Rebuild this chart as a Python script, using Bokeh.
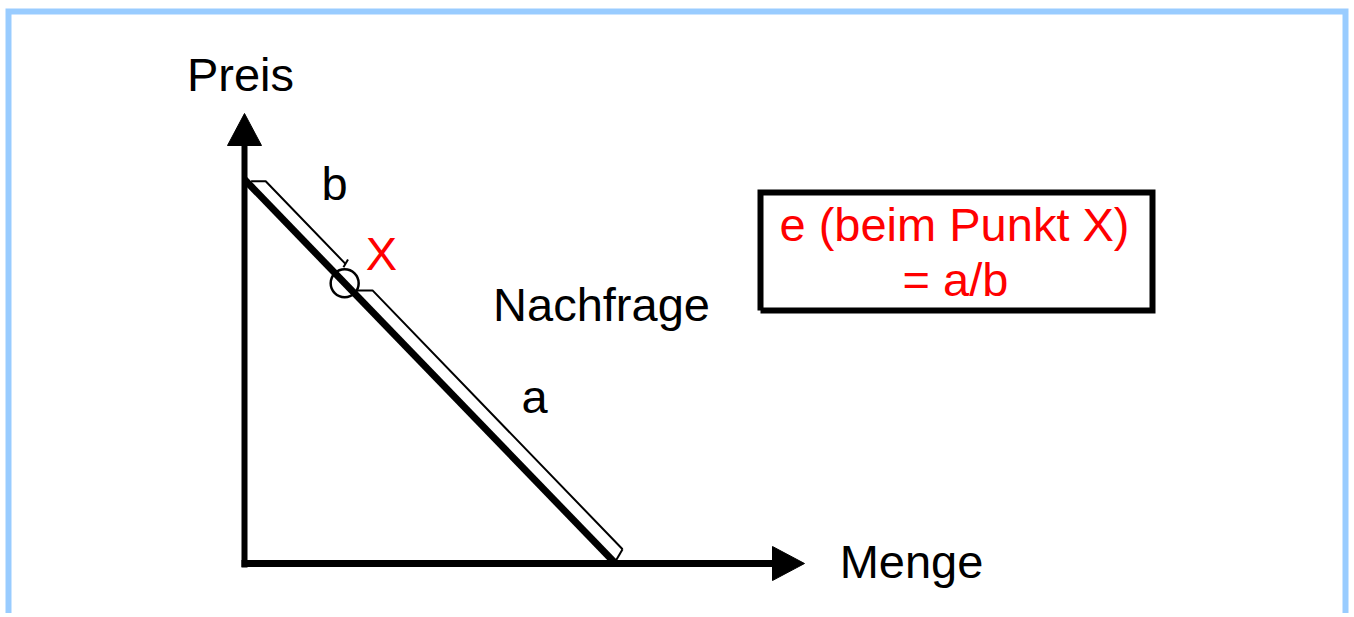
import numpy as np
from bokeh.plotting import figure
from bokeh.models import Range1d, ColumnDataSource
from bokeh.core.properties import value
from bokeh.embed import file_html
from bokeh.resources import INLINE

# ---------------- data (units: pixels relative to the axes origin) ----------------
price_axis_top = 450          # tip of the price arrow
qty_axis_end = 560            # tip of the quantity arrow
arrow_len = 32
arrow_half = 17

demand_q = [0, 371]           # demand line: quantity at its two ends
demand_p = [384, 0]           # demand line: price at its two ends
point_t = 0.27                # position of point X along the demand line

bracket_names = ["b", "a"]
bracket_t0 = [0.03, 0.316]
bracket_t1 = [0.245, 0.99]
bracket_offset = [14, 15]
bracket_end_up = [5, 0]       # end tick length beyond the bracket line
bracket_end_down = [4, 16]    # end tick length towards the demand line

label_text = ["Preis", "Menge", "Nachfrage", "a", "b"]
label_x = [-4, 667, 357, 290, 90]
label_y = [489, 2, 259, 167, 380]

red_label_text = ["X", "e (beim Punkt X)", "= a/b"]
red_label_x = [137, 710, 711]
red_label_y = [310, 339, 284]

box_x = [516, 908]
box_y = [253, 371]

frame_left, frame_right, frame_top, frame_bottom = -236, 1101, 552, -50

FONT = value("Liberation Sans")
FSIZE = "47px"

# ---------------- figure ----------------
p = figure(width=1350, height=613, output_backend="svg", toolbar_location=None,
           x_range=Range1d(-244, 1106), y_range=Range1d(-50, 563),
           x_axis_type=None, y_axis_type=None, min_border=0,
           background_fill_color="white", border_fill_color="white")
p.outline_line_color = None
p.grid.visible = False

# light blue frame
p.line([frame_left, frame_left, frame_right, frame_right],
       [frame_bottom, frame_top, frame_top, frame_bottom],
       line_color="#99CCFF", line_width=6, line_join="miter")

# axes
p.line([0, 0], [-4, price_axis_top - arrow_len], line_color="black", line_width=6)
p.line([-3, qty_axis_end - arrow_len], [0, 0], line_color="black", line_width=7)
p.patches(
    [[-arrow_half, arrow_half, 0],
     [qty_axis_end - arrow_len, qty_axis_end - arrow_len, qty_axis_end]],
    [[price_axis_top - arrow_len, price_axis_top - arrow_len, price_axis_top],
     [-arrow_half, arrow_half, 0]],
    fill_color="black", line_color="black", line_width=1)

# demand line
p.line(demand_q, demand_p, line_color="black", line_width=7)

# brackets a and b
q0, q1 = demand_q
p0, p1 = demand_p
L = np.hypot(q1 - q0, p1 - p0)
nx, ny = (p0 - p1) / L, (q1 - q0) / L   # unit normal pointing up-right
tick = np.array([0.506, 0.862])         # direction of the end ticks
xs, ys = [], []
for t0, t1, d, up, dn in zip(bracket_t0, bracket_t1, bracket_offset,
                             bracket_end_up, bracket_end_down):
    ax, ay = q0 + t0 * (q1 - q0), p0 + t0 * (p1 - p0)
    bx, by = q0 + t1 * (q1 - q0), p0 + t1 * (p1 - p0)
    sx, sy = ax + d * nx, ay + d * ny          # start of thin line
    ex, ey = bx + d * nx, by + d * ny          # end of thin line
    cap = (d - 3.5) / nx                       # horizontal cap to the thick line
    xs.append([sx - cap, sx, ex])
    ys.append([sy, sy, ey])
    xs.append([ex + up * tick[0], ex - dn * tick[0]])
    ys.append([ey + up * tick[1], ey - dn * tick[1]])
p.multi_line(xs, ys, line_color="black", line_width=2)

# point X
px = q0 + point_t * (q1 - q0)
py = p0 + point_t * (p1 - p0)
p.scatter([px], [py], marker="circle", size=28, fill_color=None,
          line_color="black", line_width=2.5)

# box
p.line([box_x[0], box_x[1], box_x[1], box_x[0], box_x[0]],
       [box_y[0], box_y[0], box_y[1], box_y[1], box_y[0]],
       line_color="black", line_width=6, line_join="miter")

# labels
src = ColumnDataSource(dict(x=label_x, y=label_y, t=label_text))
p.text("x", "y", text="t", source=src, text_font=FONT, text_font_size=FSIZE,
       text_align="center", text_baseline="alphabetic", text_color="black")
src2 = ColumnDataSource(dict(x=red_label_x, y=red_label_y, t=red_label_text))
p.text("x", "y", text="t", source=src2, text_font=FONT, text_font_size=FSIZE,
       text_align="center", text_baseline="alphabetic", text_color="#FF0000")

open("out.html", "w").write(file_html(p, INLINE))
